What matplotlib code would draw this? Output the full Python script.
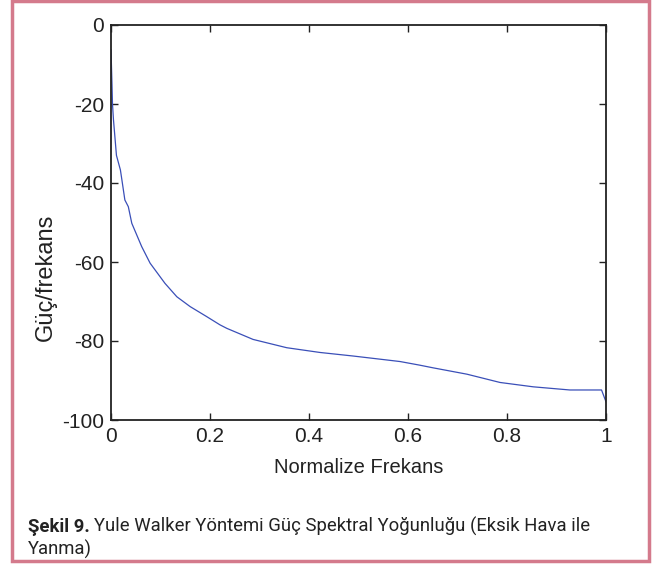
import matplotlib.pyplot as plt
from matplotlib.patches import Rectangle

# values
freq = [0, 0.002, 0.003, 0.005, 0.011, 0.019, 0.022, 0.028, 0.035, 0.042,
        0.062, 0.079, 0.109, 0.133, 0.160, 0.193, 0.220, 0.234, 0.287, 0.355,
        0.422, 0.489, 0.557, 0.584, 0.623, 0.651, 0.719, 0.786, 0.853, 0.927,
        0.991, 1.0]
psd = [-6.3, -15, -20, -24, -33, -36.7, -39.2, -44.3, -46, -50.2,
       -56.1, -60.3, -65.4, -68.8, -71.3, -73.8, -75.9, -76.8, -79.6, -81.7,
       -82.9, -83.8, -84.8, -85.2, -86.1, -86.8, -88.4, -90.5, -91.6, -92.4,
       -92.4, -95.4]

x_ticks = [0, 0.2, 0.4, 0.6, 0.8, 1]
x_tick_labels = ["0", "0.2", "0.4", "0.6", "0.8", "1"]
y_ticks = [-100, -80, -60, -40, -20, 0]

plt.rcParams["font.family"] = ["Liberation Sans", "DejaVu Sans"]
plt.rcParams["axes.unicode_minus"] = False

fig = plt.figure(figsize=(6.54, 5.72), dpi=100)
ax = fig.add_axes([111 / 654, 1 - 420 / 572, 495 / 654, 395 / 572])

ax.plot(freq, psd, color="#3a4fb8", linewidth=0.9)

ax.set_xlim(0, 1)
ax.set_ylim(-100, 0)
ax.set_xticks(x_ticks)
ax.set_xticklabels(x_tick_labels)
ax.set_yticks(y_ticks)
ax.tick_params(direction="in", length=5, width=1, top=True, right=True,
               labelsize=15, pad=5, colors="#222222")
for s in ax.spines.values():
    s.set_linewidth(1.3)
    s.set_color("#222222")

ax.set_xlabel("Normalize Frekans", fontsize=14.5, labelpad=9, color="#222222")
ax.set_ylabel("Güç/frekans", fontsize=17, color="#222222")
# label sits lower than the axis middle in the reference
ax.yaxis.set_label_coords(-0.11, 0.36)

# pink frame round the whole figure
frame = Rectangle((11.5 / 654, 1 - 561 / 572), (649 - 11.5) / 654, (561 - 1) / 572,
                  transform=fig.transFigure, fill=False,
                  edgecolor="#d47a8c", linewidth=2.5)
fig.patches.append(frame)

cap_font = ["Roboto", "Liberation Sans", "DejaVu Sans"]
cap_size = 13.3
t1 = fig.text(28 / 654, 1 - 532 / 572, "Şekil 9.", fontsize=cap_size, fontweight="bold",
              family=cap_font, va="baseline", color="#222222")
fig.canvas.draw()
bb = t1.get_window_extent()
fig.text(bb.x1 / fig.bbox.width + 4 / 654, 1 - 532 / 572,
         "Yule Walker Yöntemi Güç Spektral Yoğunluğu (Eksik Hava ile",
         fontsize=cap_size, family=cap_font, va="baseline", color="#222222")
fig.text(28 / 654, 1 - 555 / 572, "Yanma)", fontsize=cap_size, family=cap_font,
         va="baseline", color="#222222")

fig.savefig("out.png", dpi=100)
